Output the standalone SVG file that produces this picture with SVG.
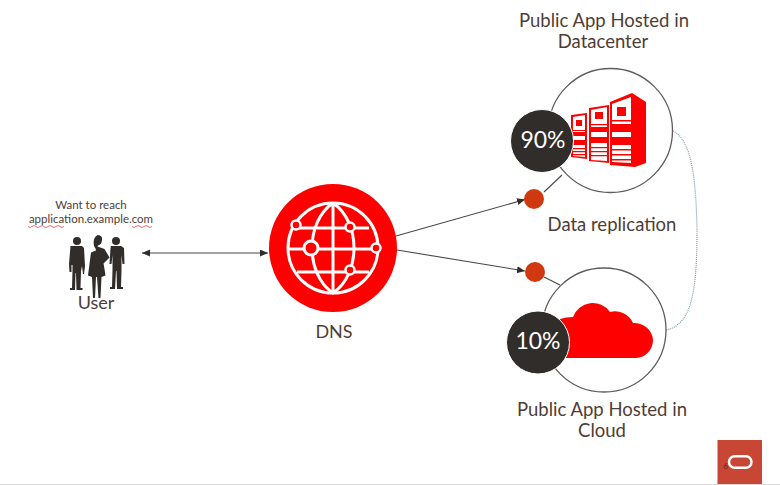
<svg xmlns="http://www.w3.org/2000/svg" width="780" height="485" viewBox="0 0 780 485">
<defs>
<marker id="arr" markerWidth="10" markerHeight="8" refX="8" refY="3.5" orient="auto-start-reverse" markerUnits="userSpaceOnUse"><path d="M0 0L8 3.5L0 7z" fill="#312d2a"/></marker>
</defs>
<style>
text{font-family:"Lato","Open Sans",sans-serif;fill:#4f3d36;text-anchor:middle}
.t{font-size:18.500px}
.c{fill:#fff;stroke:#5f5b58;stroke-width:1.3}
.k{fill:#312d2a;stroke:#fff;stroke-width:1}
.p{fill:#fff;font-size:23px}
.d{fill:#d0390f}
.l{stroke:#4a4643;stroke-width:1.1;fill:none}
.g{stroke:#fff;stroke-width:3;fill:none}
.s{fill:#f00}
.w{fill:#fff}
.b{fill:#312d2a}
</style>
<rect width="780" height="485" fill="#fff"/>
<g id="connectors">
<line class="l" x1="142" y1="253" x2="268" y2="253" marker-start="url(#arr)" marker-end="url(#arr)"/>
<line class="l" x1="396" y1="236" x2="525" y2="199.500" marker-end="url(#arr)"/>
<line class="l" x1="397" y1="250" x2="525" y2="271" marker-end="url(#arr)"/>
<line class="l" x1="544" y1="192" x2="562" y2="175"/>
<line class="l" x1="544" y1="277" x2="560" y2="285"/>
<path d="M673 131C692 140 696 180 697 230C697 290 692 325 666 330" fill="none" stroke="#7d9cab" stroke-width="1.200" stroke-dasharray="1 1"/>
</g>
<g id="user">
<text x="91" y="209" style="font-size:11.500px">Want to reach</text>
<text x="91" y="222.700" style="font-size:11.500px">application.example.com</text>
<path d="M28 226.500q2 2 4 0t4 0t4 0t4 0t4 0t4 0t4 0t4 0t4 0M132 226.500q2 2 4 0t4 0t4 0t4 0t4 0" fill="none" stroke="#e0474c" stroke-width=".8"/>
<circle class="b" cx="77" cy="241" r="4"/>
<path class="b" d="M72 246h10l2 2 1 18-1 8h-1l-1-8-1 5-.5 17h2v2h-6l-.5-17h-.5l-.5 17h-5v-2h2l.5-18v-5h-1v7h-2l-.5-8 1.500-18z"/>
<path class="b" d="M97 235c4 0 5.500 2 5 5-.3 3-1.500 5-4 5.500l-.5 1 7 2.500 5 8.500-6 6 .5 2.500 1.500 9.500-4 1.500-1 21h-2l-1.500-21h-1l-1 21h-2l-1-21-4-1.500 3-23 5-2-.5-2c-2-2-3.500-10 1.500-13z"/>
<circle class="b" cx="116" cy="241" r="4"/>
<path class="b" d="M111 246h10l3 2 .5 16h-2l-1-9v15l-.5 17h2v2h-6l-.5-18h-.5l-1 18h-5v-2h2l.5-17v-15l-1 9h-2l1-16z"/>
<text x="96" y="308.500" style="font-size:18px">User</text>
</g>
<g id="dns">
<circle class="s" cx="333" cy="248" r="64"/>
<circle class="g" cx="333" cy="248" r="45"/>
<path class="g" d="M333 203C305 222 305 274 333 293C361 274 361 222 333 203M333 203V293M288 249H378M297 228H369M297 272H369"/>
<circle cx="311" cy="248" r="7" fill="#f00" stroke="#fff" stroke-width="3"/>
<circle cx="296" cy="225" r="4.500" fill="#f00" stroke="#fff" stroke-width="2.500"/>
<circle cx="350" cy="227" r="4.500" fill="#f00" stroke="#fff" stroke-width="2.500"/>
<circle cx="376" cy="248" r="4.500" fill="#f00" stroke="#fff" stroke-width="2.500"/>
<circle cx="350" cy="270" r="4.500" fill="#f00" stroke="#fff" stroke-width="2.500"/>
<text x="334" y="338" style="font-size:18px">DNS</text>
</g>
<g id="datacenter">
<text x="604" y="27" class="t">Public App Hosted in</text>
<text x="603" y="48" class="t">Datacenter</text>
<circle class="c" cx="610.500" cy="130.500" r="62"/>
<path class="s" d="M571 115l16-2v46l-16-2zM589 108l20-3v58l-20-2zM610 102l22-9 14 9v61l-11 4-25-2z"/>
<path class="w" d="M573 117l12-2v42l-12-1zM591 110l16-3v54l-16-1zM612 104l19-7v66l-19-1z"/>
<g class="s">
<path d="M576 120h6v6h-6zM595 112h8v7h-8zM617 107h9v9h-9z"/>
<path d="M573 130h12v1h-12zM573 132h12v4h-12zM591 124h16v1.200h-16zM591 127h16v5h-16zM612 120h19v1.500h-19zM612 124h19v8h-19z"/>
<path d="M573 140h12v5h-12zM591 137h16v6h-16zM612 137h19v8h-19z"/>
<path d="M573 148h12v1.200h-12zM573 151h12v1.200h-12zM573 154h12v1.200h-12zM591 147h16v1.300h-16zM591 151h16v1.300h-16zM591 155h16v1.300h-16zM612 149h19v1.500h-19zM612 154h19v1.500h-19zM612 159h19v1.500h-19z"/>
</g>
<circle class="k" cx="542" cy="141" r="31.500"/>
<text x="543" y="147.500" class="p">90%</text>
<circle class="d" cx="534" cy="199" r="10"/>
<text x="612" y="231" class="t">Data replication</text>
</g>
<g id="cloud">
<circle class="c" cx="604" cy="330" r="62"/>
<path class="s" d="M560 319Q566 317 573 317A21 21 0 0 1 610 312A20 20 0 0 1 633 323A19 18 0 0 1 653 340A18 18 0 0 1 636 358H560z"/>
<circle class="k" cx="538" cy="342.500" r="31.500"/>
<text x="538" y="349" class="p">10%</text>
<circle class="d" cx="535" cy="272" r="10"/>
<text x="602" y="416" class="t">Public App Hosted in</text>
<text x="602" y="437" class="t">Cloud</text>
</g>
<g id="footer">
<rect x="0" y="484" width="780" height="1" fill="#d9d9d9"/>
<rect x="717.500" y="440" width="44.500" height="44" fill="#c74634"/>
<rect x="729" y="456.300" width="22.500" height="11.500" rx="5.700" fill="none" stroke="#fff" stroke-width="2.500"/>
<text x="725.500" y="469" style="font-size:8px;fill:#5f2a1e">6</text>
</g>
</svg>
